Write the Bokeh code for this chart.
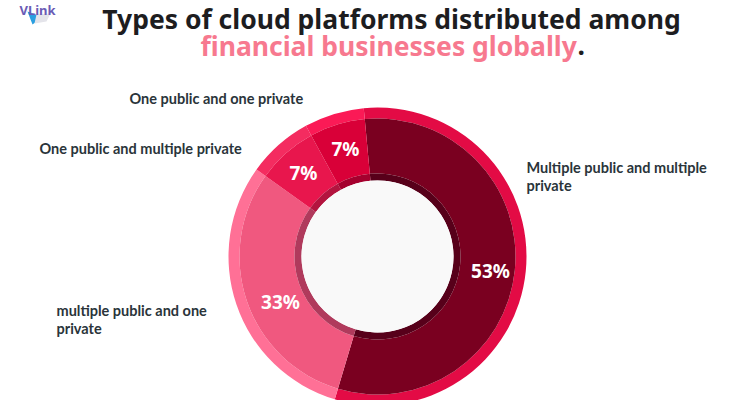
from math import pi
from bokeh.plotting import figure
from bokeh.embed import file_html
from bokeh.resources import INLINE
from bokeh.models import Range1d
from bokeh.core.properties import value

segments = ["Multiple public and multiple private", "multiple public and one private",
            "One public and multiple private", "One public and one private"]
shares = [56.1, 30.3, 7.1, 6.5]          # slice sizes as drawn in the picture
percent_labels = ["53%", "33%", "7%", "7%"]
inner_colors = ["#7a0020", "#f0587f", "#e8164d", "#d90038"]
outer_colors = ["#e30b45", "#ff7096", "#f42c60", "#fb1a56"]
hub_colors = ["#57001a", "#b03a5c", "#b3143f", "#a5002e"]

W, H = 750, 400
p = figure(width=W, height=H, output_backend="svg", toolbar_location=None,
           x_range=Range1d(0, W), y_range=Range1d(H, 0), min_border=0,
           outline_line_color=None, background_fill_color="white", border_fill_color="white")
p.axis.visible = False
p.grid.visible = False

cx, cy = 377, 256
starts, ends = [], []
cur = 90.0 + 5.3               # screen angle of the first slice's leading edge
for s in shares:
    sweep = s / sum(shares) * 360
    ends.append(cur * pi / 180)
    starts.append((cur - sweep) * pi / 180)
    cur -= sweep

for rin, rout, cols in [(138, 149, outer_colors), (83, 138, inner_colors), (76, 83, hub_colors)]:
    p.annular_wedge(x=[cx] * 4, y=[cy] * 4, inner_radius=rin, outer_radius=rout,
                    start_angle=starts, end_angle=ends, fill_color=cols, line_color=None,
                    direction="anticlock")
p.scatter(x=[cx], y=[cy], size=152, marker="circle", fill_color="#f9f9f9", line_color=None)

def txt(x, y, s, size, color, font="Noto Sans", style="bold", align="left"):
    p.text(x=[x], y=[y], text=[s], text_font=value(font), text_font_style=style,
           text_font_size=size, text_color=color, text_align=align, text_baseline="middle")

# logo
p.patch(x=[27, 38, 36, 32], y=[11, 15, 21, 24], fill_color="#2a9fe0", line_color=None)
p.patch(x=[36, 50, 46, 34], y=[14, 13, 21, 23], fill_color="#e4e4ea", line_color=None)
txt(19, 9, "VLink", "13px", "#6a5bb5")

txt(391, 18, "Types of cloud platforms distributed among", "26.5px", "#1d1d1f", align="center")
txt(200, 45, "financial businesses globally", "26.5px", "#f7798f")
txt(577, 45, ".", "26.5px", "#1d1d1f")

lab = "#2a343a"
fs = "14.5px"
lf = "Lato"
txt(129, 98, segments[3], fs, lab, font=lf)
txt(39, 148, segments[2], fs, lab, font=lf)
txt(526, 167, "Multiple public and multiple", fs, lab, font=lf)
txt(526, 185, "private", fs, lab, font=lf)
txt(56, 310, "multiple public and one", fs, lab, font=lf)
txt(56, 328, "private", fs, lab, font=lf)

for (x, y), s in zip([(490, 270), (280, 301), (303, 172), (345, 148)], percent_labels):
    txt(x, y, s, "19px", "white", align="center")

open("out.html", "w").write(file_html(p, INLINE))
